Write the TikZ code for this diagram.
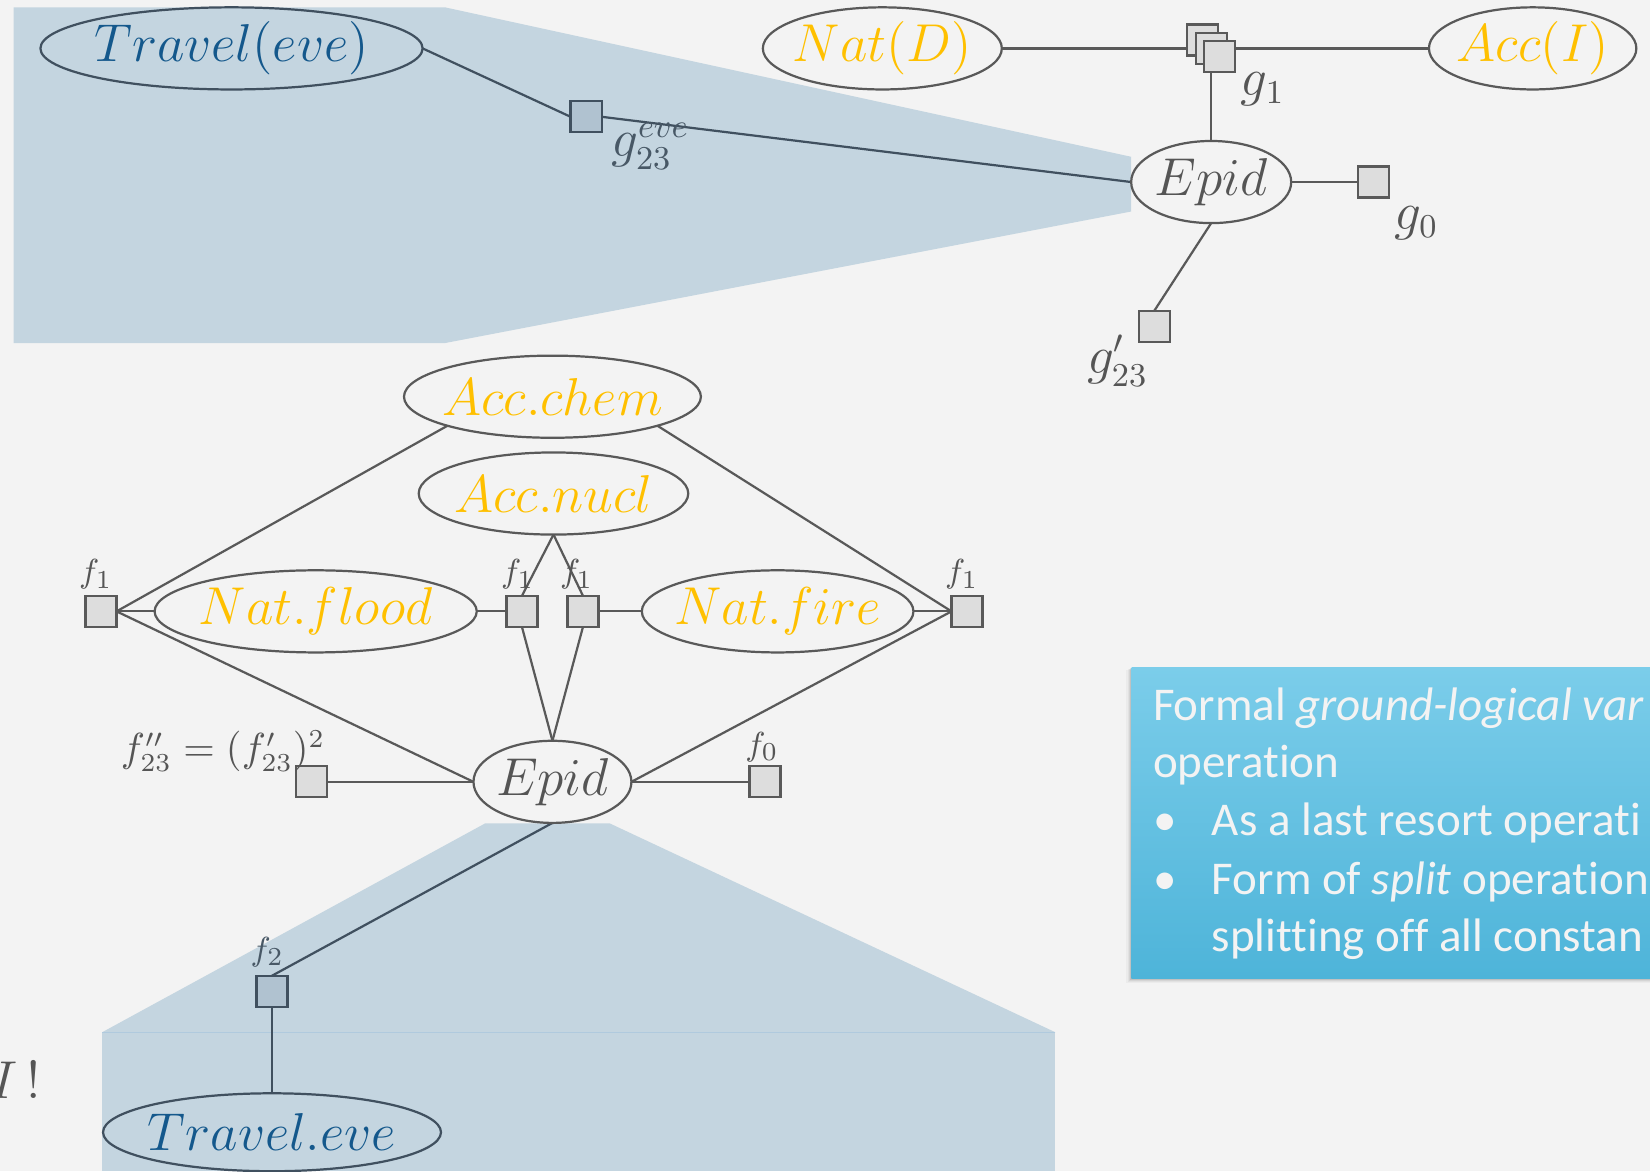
\documentclass[tikz,border=0pt]{standalone}
\usepackage{fontspec}
\newfontfamily\boxfont[Ligatures=CommonOff]{Carlito}
\usetikzlibrary{shapes.geometric}
\pgfdeclarelayer{back}
\pgfdeclarelayer{edges}
\pgfsetlayers{back,edges,main}

\definecolor{bgc}{RGB}{243,243,243}
\definecolor{panelc}{RGB}{196,213,224}
\definecolor{seamc}{RGB}{176,202,222}
\definecolor{lnc}{RGB}{89,89,89}
\definecolor{lnp}{RGB}{64,80,95}
\definecolor{sqc}{RGB}{221,221,221}
\definecolor{sqp}{RGB}{176,194,208}
\definecolor{yel}{RGB}{255,192,0}
\definecolor{blu}{RGB}{20,88,140}
\definecolor{txtc}{RGB}{85,85,85}
\definecolor{txtp}{RGB}{72,88,102}
\definecolor{boxtop}{RGB}{123,205,234}
\definecolor{boxbot}{RGB}{78,180,217}
\definecolor{boxtxt}{RGB}{243,243,243}

% ellipse label whose width does not enlarge the ellipse
\newcommand{\vlab}[1]{\makebox[0pt]{$#1$}}

\begin{document}
\begin{tikzpicture}[x=0.01cm,y=-0.01cm,
  var/.style={ellipse, draw=lnc, line width=0.6pt, inner sep=0pt, outer sep=0pt,
    minimum height=0.78cm, font=\fontsize{13.5}{16}\selectfont},
  varp/.style={var, draw=lnp},
  fac/.style={rectangle, draw=lnc, fill=sqc, line width=0.6pt,
    minimum size=0.295cm, inner sep=0pt, outer sep=0pt},
  facp/.style={fac, draw=lnp, fill=sqp},
  edge/.style={draw=lnc, line width=0.6pt},
  edgep/.style={draw=lnp, line width=0.6pt},
  lab/.style={text=txtc, inner sep=0pt, font=\fontsize{13.5}{16}\selectfont},
  flab/.style={text=txtc, inner sep=0pt, font=\fontsize{9.5}{11}\selectfont},
  boxline/.style={anchor=base west, inner sep=0pt, text=boxtxt,
    font=\boxfont\fontsize{12.7}{15.6}\selectfont},
]
\useasboundingbox (0,0) rectangle (1568,1113);

% background and shaded zoom panels
\begin{pgfonlayer}{back}
  \fill[bgc] (0,0) rectangle (1568,1113);
  \fill[panelc] (13,7) -- (423,7) -- (1075,149) -- (1075,201) -- (423,326) -- (13,326) -- cycle;
  \fill[panelc] (97,981) -- (461,782.5) -- (579.5,782.5) -- (1003,981) -- cycle;
  \fill[panelc] (97,981) rectangle (1003,1113);
  \draw[seamc, line width=0.4pt] (97,981) -- (1003,981);
\end{pgfonlayer}

% ---------- upper graph ----------
\node[varp, minimum width=3.63cm, text=blu] (TravT) at (220,46) {\vlab{Travel(eve)}};
\node[var, minimum width=2.27cm, text=yel] (NatD) at (838.5,46) {\vlab{Nat(D)}};
\node[var, minimum width=1.97cm, text=yel] (AccI) at (1456.5,46) {\vlab{Acc(I)}};
\node[var, minimum width=1.52cm, text=txtc] (EpidT) at (1151,173) {\vlab{Epid}};

\node[facp] (g23e) at (557,111) {};
\node[fac] (g1a) at (1143,38) {};
\node[fac] (g1b) at (1151,46) {};
\node[fac] (g1c) at (1159,54) {};
\node[fac] (g0) at (1305,173) {};
\node[fac] (g23p) at (1097,310) {};

\node[lab, text=txtp] (lg23e) at (618,139) {$g_{23}^{eve}$};
\node[lab] (lg1) at (1200,85) {$g_1$};
\node[lab] (lg0) at (1346,212) {$g_0$};
\node[lab] (lg23p) at (1062,343) {$g'_{23}$};

\begin{pgfonlayer}{edges}
  \draw[edgep] (TravT.east) -- (g23e.west);
  \draw[edgep] (g23e.east) -- (EpidT.west);
  \draw[edge] (NatD) -- (g1b);
  \draw[edge] (g1b) -- (AccI);
  \draw[edge] (g1b) -- (EpidT);
  \draw[edge] (EpidT) -- (g0);
  \draw[edge] (EpidT.south) -- (g23p.north);
\end{pgfonlayer}

% ---------- lower graph ----------
\node[var, minimum width=2.82cm, text=yel] (AccChem) at (525,377) {\vlab{Acc.chem}};
\node[var, minimum width=2.56cm, text=yel] (AccNucl) at (526,469) {\vlab{Acc.nucl}};
\node[var, minimum width=3.06cm, text=yel] (NatFlood) at (300,581) {\vlab{Nat.flood}};
\node[var, minimum width=2.58cm, text=yel] (NatFire) at (739,581) {\vlab{Nat.fire}};
\node[var, minimum width=1.50cm, text=txtc] (EpidL) at (525,743) {\vlab{Epid}};
\node[varp, minimum width=3.21cm, minimum height=0.74cm, text=blu] (TravL) at (258.5,1076) {\vlab{Travel.eve}};

\node[fac] (f1a) at (96,581) {};
\node[fac] (f1b) at (496,581) {};
\node[fac] (f1c) at (554,581) {};
\node[fac] (f1d) at (919,581) {};
\node[fac] (f23) at (296,743) {};
\node[fac] (f0) at (727,743) {};
\node[facp] (f2) at (258.5,942) {};

\node[flab] (lf1a) at (91,546) {$f_1$};
\node[flab] (lf1b) at (492,546) {$f_1$};
\node[flab] (lf1c) at (548,546) {$f_1$};
\node[flab] (lf1d) at (914,546) {$f_1$};
\node[flab] (lf0) at (724,710) {$f_0$};
\node[flab, text=txtp] (lf2) at (254,905) {$f_2$};
\node[flab, font=\fontsize{10.5}{12}\selectfont] (lf23) at (212,714) {$f''_{23}=(f'_{23})^2$};

\begin{pgfonlayer}{edges}
  \draw[edge] (AccChem.south west) -- (f1a.east);
  \draw[edge] (AccChem.south east) -- (f1d.west);
  \draw[edge] (AccNucl.south) -- (f1b.north);
  \draw[edge] (AccNucl.south) -- (f1c.north);
  \draw[edge] (NatFlood) -- (f1a);
  \draw[edge] (NatFlood) -- (f1b);
  \draw[edge] (f1c) -- (NatFire);
  \draw[edge] (NatFire) -- (f1d);
  \draw[edge] (f1a.east) -- (EpidL.west);
  \draw[edge] (f1b.south) -- (EpidL.north);
  \draw[edge] (f1c.south) -- (EpidL.north);
  \draw[edge] (f1d.west) -- (EpidL.east);
  \draw[edge] (f23) -- (EpidL);
  \draw[edge] (EpidL) -- (f0);
  \draw[edgep] (EpidL.south) -- (f2.north);
  \draw[edgep] (f2) -- (TravL);
\end{pgfonlayer}

\node[lab, anchor=east, font=\fontsize{15.8}{18}\selectfont] (bang) at (40,1026) {$I\,!$};

% ---------- note box ----------
\foreach \i/\o in {1/0.10,2/0.08,3/0.06,4/0.04,5/0.03}
  \fill[black, opacity=\o] (1075.5-\i,634+0.5*\i) rectangle (1600,929.5+\i);
\shade[top color=boxtop, bottom color=boxbot] (1075.5,634) rectangle (1600,929.5);

\node[boxline] (t1) at (1095,685) {Formal \textit{ground-logical var}};
\node[boxline] (t2) at (1095,739) {operation};
\node[boxline] (b1) at (1095,794) {•};
\node[boxline] (t3) at (1151,794) {As a last resort operati};
\node[boxline] (b2) at (1095,850.5) {•};
\node[boxline] (t4) at (1151,850.5) {Form of \textit{split} operation};
\node[boxline] (t5) at (1151,904) {splitting off all constan};
\end{tikzpicture}
\end{document}
